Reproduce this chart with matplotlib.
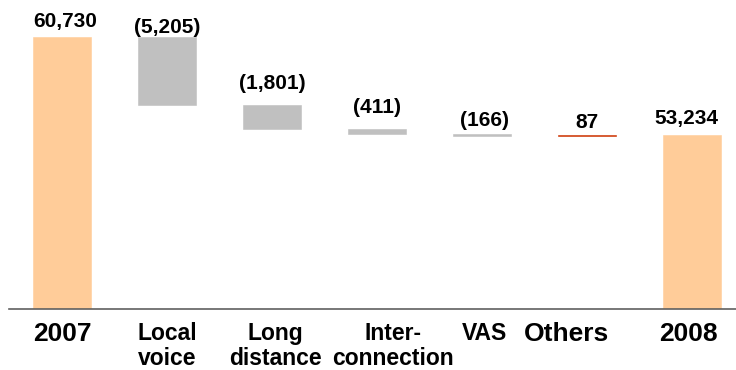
import matplotlib.pyplot as plt

plt.rcParams['font.family'] = ['Liberation Sans', 'DejaVu Sans']

# Revenue bridge 2007 -> 2008
start_label = '2007'
end_label = '2008'
start_value = 60730
end_value = 53234
step_labels = ['Local\nvoice', 'Long\ndistance', 'Inter-\nconnection', 'VAS', 'Others']
step_changes = [-5205, -1801, -411, -166, 87]

categories = [start_label] + step_labels + [end_label]

# styling
total_color = '#FFCC99'
down_color = '#C0C0C0'
up_color = '#CC3300'
cat_sizes = [19, 16.5, 16.5, 16.5, 16.5, 19, 19]
cat_dx = [0, 0, 0.03, 0.15, 0.02, -0.2, -0.03]
val_dy = [7, 3, 12, 11.5, 6, 5, 8]      # points above the bar top
val_dx = [2, 0, 0, 0, 2, 0, -4]

# build waterfall geometry from the values
bottoms, heights, colors, texts, tops = [], [], [], [], []
bottoms.append(0)
heights.append(start_value)
colors.append(total_color)
texts.append(f'{start_value:,}')
tops.append(start_value)
running = start_value
for d in step_changes:
    new = running + d
    bottoms.append(min(running, new))
    heights.append(abs(d))
    colors.append(down_color if d < 0 else up_color)
    texts.append(f'({abs(d):,})' if d < 0 else f'{d:,}')
    tops.append(max(running, new))
    running = new
bottoms.append(0)
heights.append(end_value)
colors.append(total_color)
texts.append(f'{end_value:,}')
tops.append(end_value)

fig = plt.figure(figsize=(7.36, 3.70), dpi=100)
ax = fig.add_axes([9 / 736, 61 / 370, 727 / 736, 309 / 370])

x = list(range(len(categories)))
ax.bar(x, heights, bottom=bottoms, width=0.55, color=colors,
       edgecolor=colors, linewidth=0.4)

ax.set_xlim(-0.505, 6.419)
ax.set_ylim(40000, 63550)

for i, (t, top) in enumerate(zip(texts, tops)):
    ax.annotate(t, (x[i], top), xytext=(val_dx[i], val_dy[i]),
                textcoords='offset points', ha='center', va='baseline',
                fontsize=15, fontweight='bold', color='black')

for i, c in enumerate(categories):
    ax.annotate(c, (x[i] + cat_dx[i], 0), xycoords=('data', 'axes fraction'),
                xytext=(0, -9.5), textcoords='offset points',
                ha='center', va='top', fontsize=cat_sizes[i],
                fontweight='bold', linespacing=1.1, color='black')

for s in ['top', 'right', 'left']:
    ax.spines[s].set_visible(False)
ax.spines['bottom'].set_color('#606060')
ax.spines['bottom'].set_linewidth(1.2)
ax.set_xticks([])
ax.set_yticks([])

fig.savefig('out.png', dpi=100, facecolor='white')
